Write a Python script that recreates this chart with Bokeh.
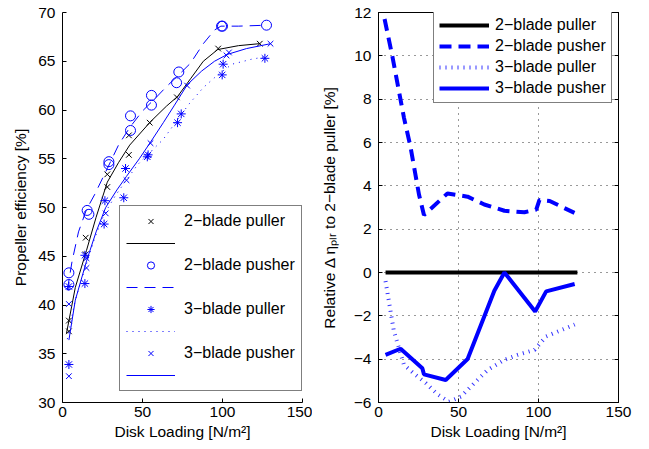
from bokeh.plotting import figure
from bokeh.models import Legend, LegendItem, LinearAxis, FixedTicker, Range1d
from bokeh.layouts import row
from bokeh.embed import file_html
from bokeh.resources import INLINE
from bokeh.core.properties import value

FONT = "Liberation Sans"
BLUE = "#0000ff"
FS = "15.5px"
LFS = "16px"

# ---------------- data (left panel: efficiency) ----------------
pul2_x = [4, 4, 14.5, 14.5, 28, 28, 41.5, 41.5, 54.5, 71.5, 97.3, 123.3]
pul2_y = [37.3, 38.4, 45.2, 46.9, 52.1, 53.4, 55.4, 57.4, 58.7, 61.3, 66.3, 66.8]
pus2_x = [4, 4, 15.4, 16.5, 29, 29, 42.5, 42.5, 55.6, 55.6, 71.3, 72.7, 99.4, 100, 127.5]
pus2_y = [42.1, 43.3, 49.7, 49.3, 54.4, 54.7, 57.9, 59.4, 60.5, 61.5, 62.8, 63.9, 68.6, 68.6, 68.7]
pul3_x = [4, 4, 14, 14, 26, 26.5, 38.3, 39.4, 53, 53.5, 71.9, 74.2, 99.8, 100.4, 126.5]
pul3_y = [33.9, 41.9, 42.2, 45.1, 48.3, 50.7, 51.0, 54.0, 55.2, 55.4, 58.7, 59.6, 63.6, 64.7, 65.3]
pus3_x = [4, 4, 15, 15, 27, 40, 55, 77.9, 102.5, 104, 130]
pus3_y = [32.7, 40.1, 43.8, 44.8, 49.4, 52.8, 56.6, 62.5, 65.6, 65.9, 66.8]

fit_pul2_x = [2.5, 8, 15, 21, 28, 35, 42, 55, 65, 72, 80, 88, 97, 110, 123]
fit_pul2_y = [37.1, 41.8, 45.6, 49.0, 52.6, 54.6, 56.4, 58.8, 60.4, 61.4, 63.2, 65.0, 66.2, 66.6, 66.8]
fit_pus2_x = [3, 6, 10, 15, 20, 28, 35, 42, 50, 58, 65, 72, 80, 88, 95, 99, 110, 128]
fit_pus2_y = [41.5, 44.5, 47.5, 49.8, 51.3, 54.0, 56.4, 58.2, 59.9, 61.2, 62.4, 63.5, 64.8, 66.8, 68.2, 68.6, 68.6, 68.7]
fit_pul3_x = [3, 8, 14, 20, 26, 33, 39, 47, 55, 63, 71, 79, 88, 97, 106, 118, 128]
fit_pul3_y = [36.5, 40.5, 43.7, 46.8, 49.3, 51.2, 52.6, 54.4, 55.7, 57.0, 58.8, 60.6, 62.3, 63.6, 64.7, 65.2, 65.5]
fit_pus3_x = [4, 8, 15, 21, 27, 34, 40, 48, 55, 63, 70, 78, 87, 95, 103, 115, 130]
fit_pus3_y = [36.4, 40.5, 44.5, 47.5, 50.0, 51.8, 53.2, 55.0, 56.7, 58.7, 60.5, 62.6, 64.0, 65.0, 65.7, 66.3, 66.8]

# ---------------- data (right panel: relative difference) ----------------
rel_pul2_x = [4.4, 14, 28, 42, 55, 72, 78.7, 98, 104.8, 124.3]
rel_pul2_y = [0, 0, 0, 0, 0, 0, 0, 0, 0, 0]
rel_pus2_x = [3.8, 8.6, 15.9, 20, 25.3, 28.4, 43.1, 55.7, 66.1, 78.7, 91.2, 98.6, 100.6, 107, 122.5]
rel_pus2_y = [11.7, 10.0, 7.15, 5.8, 3.6, 2.65, 3.65, 3.5, 3.14, 2.85, 2.78, 2.9, 3.35, 3.3, 2.75]
rel_pul3_x = [4.4, 6.5, 9.6, 12.8, 15.9, 23.2, 29.5, 36.8, 44.1, 51.5, 57.7, 68.2, 78.7, 87, 97.5, 104.8, 122.6]
rel_pul3_y = [-0.4, -1.33, -2.7, -3.5, -4.26, -4.73, -5.1, -5.62, -5.96, -5.73, -5.27, -4.5, -4.03, -3.8, -3.57, -2.95, -2.4]
rel_pus3_x = [4.4, 13.8, 27.4, 28.4, 42, 55.7, 72.4, 78.7, 97.9, 104.8, 122.6]
rel_pus3_y = [-3.8, -3.52, -4.42, -4.7, -4.96, -3.99, -0.84, 0.0, -1.8, -0.87, -0.53]

names = ["2\u2212blade puller", "2\u2212blade pusher", "3\u2212blade puller", "3\u2212blade pusher"]
x_ticks = [0, 50, 100, 150]
eff_ticks = [30, 35, 40, 45, 50, 55, 60, 65, 70]
rel_ticks = [-6, -4, -2, 0, 2, 4, 6, 8, 10, 12]
rel_tick_labels = {-6: "\u22126", -4: "\u22124", -2: "\u22122"}


def style_axis(ax, ticks, label_size=FS):
    ax.ticker = FixedTicker(ticks=ticks)
    ax.major_tick_in = 4
    ax.major_tick_out = 0
    ax.minor_tick_in = 0
    ax.minor_tick_out = 0
    ax.axis_line_color = "black"
    ax.major_tick_line_color = "black"
    ax.major_label_text_font = FONT
    ax.major_label_text_font_size = label_size
    ax.major_label_text_color = "black"
    ax.axis_label_text_font = FONT
    ax.axis_label_text_font_size = FS
    ax.axis_label_text_font_style = "normal"
    ax.axis_label_text_color = "black"


# ---------------- left figure ----------------
p1 = figure(frame_width=240, frame_height=390, x_range=Range1d(0, 150), y_range=Range1d(30, 70),
            output_backend="svg", toolbar_location=None,
            min_border_left=62, min_border_right=10, min_border_top=12, min_border_bottom=47)
p1.outline_line_color = None
p1.grid.visible = False
p1.background_fill_color = "white"
p1.border_fill_color = "white"
style_axis(p1.xaxis[0], x_ticks)
style_axis(p1.yaxis[0], eff_ticks)
p1.xaxis[0].axis_label = "Disk Loading [N/m\u00b2]"
p1.yaxis[0].axis_label = "Propeller efficiency [%]"
p1.xaxis[0].major_label_standoff = 4
p1.xaxis[0].axis_label_standoff = 3
p1.yaxis[0].major_label_standoff = 7
p1.yaxis[0].axis_label_standoff = 6

s1 = p1.scatter(pul2_x, pul2_y, marker="x", size=8, line_color="black", line_width=1)
l1 = p1.line(fit_pul2_x, fit_pul2_y, line_color="black", line_width=1)
s2 = p1.scatter(pus2_x, pus2_y, marker="circle", size=10, line_color=BLUE, fill_color=None, line_width=1)
l2 = p1.line(fit_pus2_x, fit_pus2_y, line_color=BLUE, line_width=1, line_dash="11 7")
s3 = p1.scatter(pul3_x, pul3_y, marker="asterisk", size=9, line_color=BLUE, line_width=1)
l3 = p1.line(fit_pul3_x, fit_pul3_y, line_color=BLUE, line_width=1, line_dash="1 5")
s4 = p1.scatter(pus3_x, pus3_y, marker="x", size=8, line_color=BLUE, line_width=1)
l4 = p1.line(fit_pus3_x, fit_pus3_y, line_color=BLUE, line_width=1)

leg1 = Legend(items=[
    LegendItem(label=value(names[0]), renderers=[s1]),
    LegendItem(label=value(""), renderers=[l1]),
    LegendItem(label=value(names[1]), renderers=[s2]),
    LegendItem(label=value(""), renderers=[l2]),
    LegendItem(label=value(names[2]), renderers=[s3]),
    LegendItem(label=value(""), renderers=[l3]),
    LegendItem(label=value(names[3]), renderers=[s4]),
    LegendItem(label=value(""), renderers=[l4]),
], location=(57, 11))
leg1.padding = 6
leg1.spacing = 4
leg1.glyph_width = 49
leg1.glyph_height = 18
leg1.label_height = 18
leg1.label_standoff = 9
p1.add_layout(leg1)

# ---------------- right figure ----------------
p2 = figure(frame_width=240, frame_height=390, x_range=Range1d(0, 150), y_range=Range1d(-6, 12),
            output_backend="svg", toolbar_location=None,
            min_border_left=66, min_border_right=20, min_border_top=12, min_border_bottom=47)
p2.outline_line_color = "black"
p2.background_fill_color = "white"
p2.border_fill_color = "white"
style_axis(p2.xaxis[0], x_ticks)
style_axis(p2.yaxis[0], rel_ticks)
p2.yaxis[0].major_label_overrides = rel_tick_labels
p2.xaxis[0].axis_label = "Disk Loading [N/m\u00b2]"
p2.yaxis[0].axis_label = "Relative \u0394 \u03b7\u209a\u2097\u1d63 to 2\u2212blade puller [%]"
p2.xaxis[0].major_label_standoff = 4
p2.xaxis[0].axis_label_standoff = 3
p2.yaxis[0].major_label_standoff = 7
p2.yaxis[0].axis_label_standoff = 13

# tick-only mirror axes (box on, ticks inward)
for loc, tk in (("right", rel_ticks), ("above", x_ticks)):
    ax = LinearAxis()
    style_axis(ax, tk, label_size="0px")
    ax.major_label_text_color = None
    ax.major_label_standoff = 0
    p2.add_layout(ax, loc)

p2.xgrid.grid_line_color = "#333333"
p2.ygrid.grid_line_color = "#333333"
p2.xgrid.grid_line_dash = "1 5"
p2.ygrid.grid_line_dash = "1 5"
p2.xgrid.grid_line_width = 1
p2.ygrid.grid_line_width = 1

r1 = p2.line(rel_pul2_x, rel_pul2_y, line_color="black", line_width=4)
r2 = p2.line(rel_pus2_x, rel_pus2_y, line_color=BLUE, line_width=4, line_dash="12 7")
r3 = p2.line(rel_pul3_x, rel_pul3_y, line_color=BLUE, line_width=4, line_dash="1 5", line_alpha=0.8)
r4 = p2.line(rel_pus3_x, rel_pus3_y, line_color=BLUE, line_width=4)

leg2 = Legend(items=[LegendItem(label=value(n), renderers=[r]) for n, r in zip(names, [r1, r2, r3, r4])],
              location=(55, 299))
leg2.padding = 5
leg2.spacing = 3
leg2.glyph_width = 50
leg2.glyph_height = 16
leg2.label_height = 16
leg2.label_standoff = 6
p2.add_layout(leg2)

for lg in (leg1, leg2):
    lg.border_line_color = "black"
    lg.border_line_width = 1
    lg.background_fill_color = "white"
    lg.background_fill_alpha = 1
    lg.label_text_font = FONT
    lg.label_text_font_size = LFS
    lg.label_text_color = "black"
    lg.margin = 0

layout = row(p1, p2)
open("out.html", "w").write(file_html(layout, INLINE))
